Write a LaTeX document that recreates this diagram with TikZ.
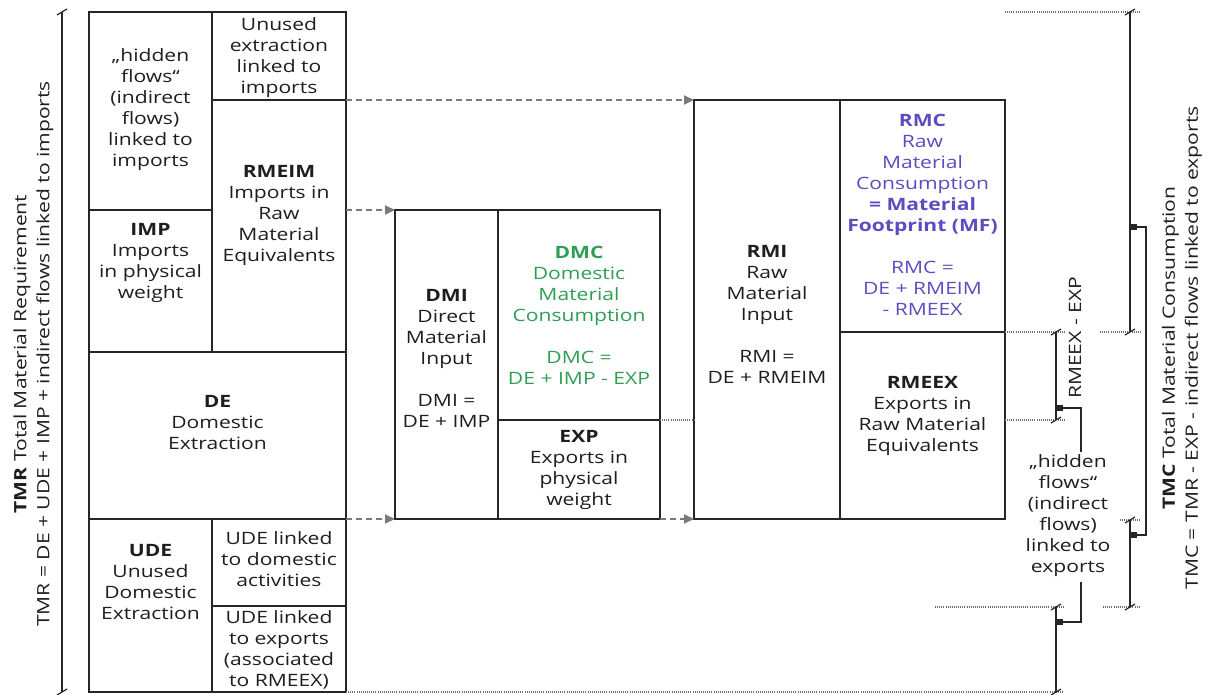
\documentclass[tikz,border=0pt]{standalone}
\usepackage{fontspec}
\setmainfont{Open Sans}[FakeStretch=1.24]
\usetikzlibrary{arrows.meta}
\definecolor{boxc}{HTML}{262626}
\definecolor{arrc}{HTML}{7A7A7A}
\definecolor{dotc}{HTML}{707070}
\definecolor{dmcgreen}{HTML}{2F9E55}
\definecolor{rmcpurple}{HTML}{5B4CC0}
\definecolor{txtc}{HTML}{1E1E1E}
\newcommand\bracketick[1]{\draw[boxc,line width=1.2pt] (#1) ++(-5,3) -- ++(10,-6);}
\begin{document}
\begin{tikzpicture}[x=1pt,y=-1pt,
 cell/.style={draw=boxc,line width=2pt,inner sep=0pt,outer sep=0pt,anchor=north west},
 txt/.style={align=center,inner sep=0pt,text=txtc,font=\fontsize{17}{21}\selectfont},
 rtxt/.style={txt,rotate=90,font=\fontsize{17}{23}\selectfont},
 flow/.style={draw=arrc,line width=2pt,dash pattern=on 6pt off 4pt,-{Triangle[length=10pt,width=9pt,fill=arrc]}},
 dots/.style={draw=dotc,line width=1.2pt,dash pattern=on 1pt off 1.1pt},
 brk/.style={draw=boxc,line width=1.8pt},
 sq/.style={fill=boxc,minimum size=6pt,inner sep=0pt,draw=none},
 link/.style={draw=boxc,line width=1.8pt}]
\useasboundingbox (0,0) rectangle (1213,695);

% ---------- cells ----------
\node[cell,minimum width=123pt,minimum height=198pt] (hid) at (89,12) {};
\node[cell,minimum width=134pt,minimum height=88pt] (unu) at (212,12) {};
\node[cell,minimum width=123pt,minimum height=142pt] (imp) at (89,210) {};
\node[cell,minimum width=134pt,minimum height=252pt] (rmeim) at (212,100) {};
\node[cell,minimum width=257pt,minimum height=167pt] (de) at (89,352) {};
\node[cell,minimum width=123pt,minimum height=173pt] (ude) at (89,519) {};
\node[cell,minimum width=134pt,minimum height=87pt] (uded) at (212,519) {};
\node[cell,minimum width=134pt,minimum height=86pt] (udex) at (212,606) {};
\node[cell,minimum width=103pt,minimum height=309pt] (dmi) at (395,210) {};
\node[cell,minimum width=162pt,minimum height=210pt] (dmc) at (498,210) {};
\node[cell,minimum width=162pt,minimum height=99pt] (exp) at (498,420) {};
\node[cell,minimum width=146pt,minimum height=419pt] (rmi) at (694,100) {};
\node[cell,minimum width=165pt,minimum height=232pt] (rmc) at (840,100) {};
\node[cell,minimum width=165pt,minimum height=187pt] (rmeex) at (840,332) {};

% ---------- texts ----------
\node[txt] (thid) at (150.5,110) {„hidden\\flows“\\(indirect\\flows)\\linked to\\imports};
\node[txt] (tunu) at (279,58) {Unused\\extraction\\linked to\\imports};
\node[txt] (timp) at (150.5,263) {\textbf{IMP}\\Imports\\in physical\\weight};
\node[txt] (trmeim) at (279,215) {\textbf{RMEIM}\\Imports in\\Raw\\Material\\Equivalents};
\node[txt] (tde) at (217.5,423) {\textbf{DE}\\Domestic\\Extraction};
\node[txt] (tude) at (150.5,582) {\textbf{UDE}\\Unused\\Domestic\\Extraction};
\node[txt] (tuded) at (279,559) {UDE linked\\to domestic\\activities};
\node[txt] (tudex) at (279,650) {UDE linked\\to exports\\(associated\\to RMEEX)};
\node[txt] (tdmi) at (446.5,358) {\textbf{DMI}\\Direct\\Material\\Input\\[21pt]DMI =\\DE + IMP};
\node[txt,text=dmcgreen] (tdmc) at (579,315) {\textbf{DMC}\\Domestic\\Material\\Consumption\\[21pt]DMC =\\DE + IMP - EXP};
\node[txt] (texp) at (579,470) {\textbf{EXP}\\Exports in\\physical\\weight};
\node[txt] (trmi) at (767,314) {\textbf{RMI}\\Raw\\Material\\Input\\[21pt]RMI =\\DE + RMEIM};
\node[txt,text=rmcpurple] (trmc) at (922.5,215) {\textbf{RMC}\\Raw\\Material\\Consumption\\\textbf{= Material}\\\textbf{Footprint (MF)}\\[21pt]RMC =\\DE + RMEIM\\- RMEEX};
\node[txt] (trmeex) at (922.5,416) {\textbf{RMEEX}\\Exports in\\Raw Material\\Equivalents};

% ---------- flows ----------
\draw[flow] (unu.south east) -- (rmi.north west);
\draw[flow] (rmeim.east |- dmi.north west) -- (dmi.north west);
\draw[flow] (de.south east) -- (dmi.south west);
\draw[flow] (exp.south east) -- (rmi.south west);
\draw[dots] (exp.north east) -- (rmi.west |- exp.north east);

% ---------- bracket end points ----------
\coordinate (lt) at (62,12);
\coordinate (lb) at (62,692);
\coordinate (b1t) at (1130,12);
\coordinate (b1b) at (1130,332);
\coordinate (b2t) at (1130,520);
\coordinate (b2b) at (1130,607);
\coordinate (b3t) at (1056,332);
\coordinate (b3b) at (1056,420);
\coordinate (b4t) at (1056,607);
\coordinate (b4b) at (1056,692);
\coordinate (d1) at (935,607);

% dotted guides
\draw[dots] (rmc.north east |- b1t) -- ([xshift=10pt]b1t);
\draw[dots] (rmc.south east) -- ([xshift=8pt]b3t);
\draw[dots] ([xshift=-30pt]b1b) -- ([xshift=10pt]b1b);
\draw[dots] (rmeex.east |- b3b) -- ([xshift=8pt]b3b);
\draw[dots] ([xshift=-10pt]b2t) -- ([xshift=10pt]b2t);
\draw[dots] (d1) -- ([xshift=8pt]b4t);
\draw[dots] ([xshift=-27pt]b2b) -- ([xshift=10pt]b2b);
\draw[dots] (udex.south east) -- ([xshift=8pt]b4b);

% brackets
\draw[brk] (lt) -- (lb);
\bracketick{lt}\bracketick{lb}
\draw[brk] (b1t) -- (b1b);
\bracketick{b1t}\bracketick{b1b}
\draw[brk] (b2t) -- (b2b);
\bracketick{b2t}\bracketick{b2b}
\draw[brk] (b3t) -- (b3b);
\bracketick{b3t}\bracketick{b3b}
\draw[brk] (b4t) -- (b4b);
\bracketick{b4t}\bracketick{b4b}

% squares and links
\node[sq] (s1) at (1134,227) {};
\node[sq] (s2) at (1134,535) {};
\node[sq] (s3) at (1060,408) {};
\node[sq] (s4) at (1060,622) {};
\coordinate (k1) at (1146,227);
\coordinate (k2) at (1081,452);
\coordinate (k3) at (1081,582);
\draw[link] (s1.center) -- (k1) |- (s2.center);
\draw[link] (s3.center) -| (k2);
\draw[link] (s4.center) -| (k3);

% labels
\node[rtxt] (tmr) at (33.5,354) {\textbf{TMR} Total Material Requirement\\TMR = DE + UDE + IMP + indirect flows linked to imports};
\node[rtxt] (tmc) at (1182,348) {\textbf{TMC} Total Material Consumption\\TMC = TMR - EXP - indirect flows linked to exports};
\node[txt,rotate=90] (trx) at (1075,338) {RMEEX - EXP};
\node[txt] (hfx) at (1068,516) {„hidden\\flows“\\(indirect\\flows)\\linked to\\exports};
\end{tikzpicture}
\end{document}
